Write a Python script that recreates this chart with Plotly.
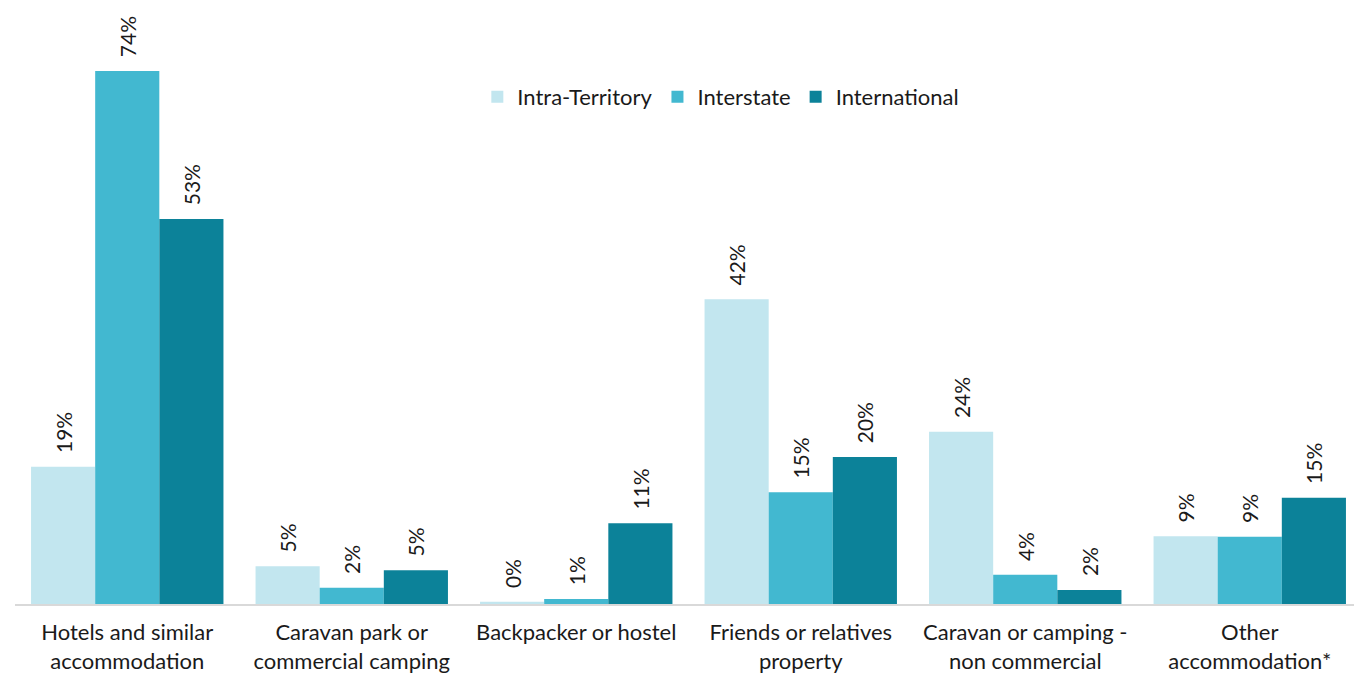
import plotly.graph_objects as go

categories = [
    "Hotels and similar<br>accommodation",
    "Caravan park or<br>commercial camping",
    "Backpacker or hostel",
    "Friends or relatives<br>property",
    "Caravan or camping -<br>non commercial",
    "Other<br>accommodation*",
]
series_names = ["Intra-Territory", "Interstate", "International"]
intra = [19.05, 5.24, 0.3, 42.3, 23.9, 9.4]
interstate = [74.0, 2.26, 0.71, 15.5, 4.05, 9.35]
international = [53.45, 4.7, 11.2, 20.4, 1.96, 14.76]
intra_labels = ["19%", "5%", "0%", "42%", "24%", "9%"]
interstate_labels = ["74%", "2%", "1%", "15%", "4%", "9%"]
international_labels = ["53%", "5%", "11%", "20%", "2%", "15%"]
series_values = [intra, interstate, international]
series_labels = [intra_labels, interstate_labels, international_labels]
colors = ["#C2E6EF", "#42B8D0", "#0C8299"]

PAD = "\u00a0" * 2

fig = go.Figure()
for name, vals, labs, col in zip(series_names, series_values, series_labels, colors):
    fig.add_trace(go.Bar(
        name=name,
        x=categories,
        y=vals,
        marker=dict(color=col, line=dict(width=0)),
        text=[PAD + t for t in labs],
        textposition="outside",
        textangle=-90,
        textfont=dict(family="Lato", size=21, color="#1a1a1a"),
        cliponaxis=False,
        hoverinfo="skip",
    ))

# page body has an 8px margin; figure is sized/offset to compensate
fig.update_layout(
    width=1354,
    height=665,
    barmode="group",
    bargap=0.143,
    bargroupgap=0,
    plot_bgcolor="white",
    paper_bgcolor="white",
    margin=dict(l=7, r=0, t=32, b=69),
    font=dict(family="Lato", size=22, color="#1a1a1a"),
    legend=dict(
        orientation="h",
        x=0.524, xanchor="center",
        y=0.899, yanchor="middle",
        font=dict(family="Lato", size=22, color="#1a1a1a"),
        bgcolor="rgba(0,0,0,0)",
        itemwidth=30,
    ),
)
fig.update_xaxes(
    showline=True, linecolor="#D9D9D9", linewidth=1.5,
    ticks="", showgrid=False,
    ticklabelstandoff=8,
    tickfont=dict(family="Lato", size=22, color="#1a1a1a"),
)
fig.update_yaxes(
    range=[0, 78.3], visible=False, showgrid=False, zeroline=False,
)

fig.write_html("out.html")
